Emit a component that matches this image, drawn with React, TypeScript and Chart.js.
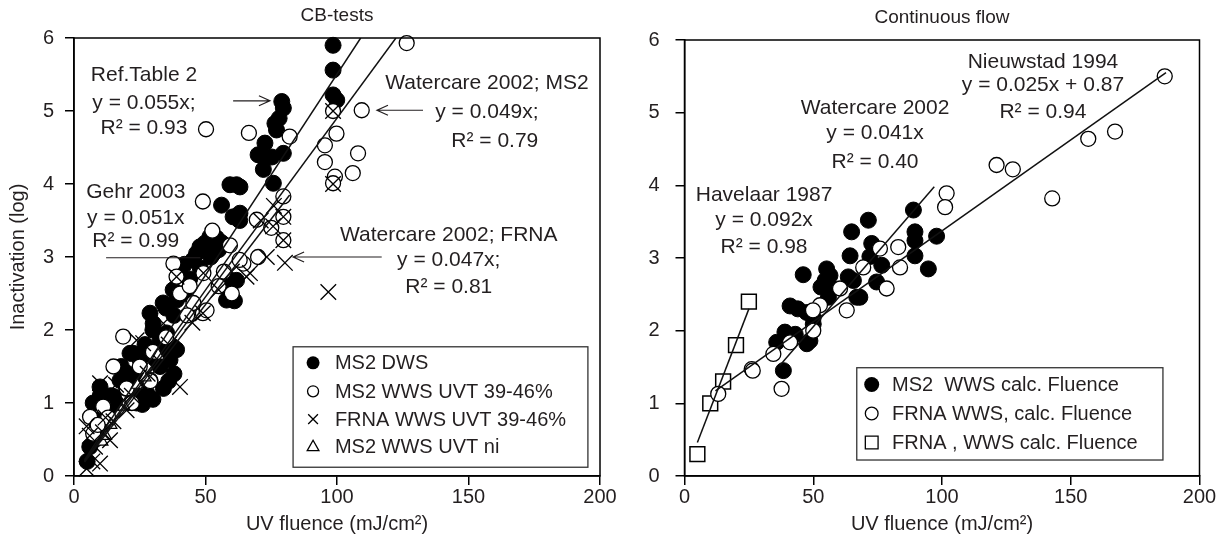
import React, { useEffect, useRef } from "react";
import { Chart, registerables } from "chart.js";

Chart.register(...registerables);

const FONT = "'Liberation Sans', Arial, Helvetica, sans-serif";
const INK = "#231f20";

type P = [number, number];

// ---------------- shared axis ticks ----------------
const xTickValues = [0, 50, 100, 150, 200];
const yTickValues = [0, 1, 2, 3, 4, 5, 6];

// ---------------- Left panel: CB-tests ----------------
const cbMs2Dws: P[] = [
  [5, 0.2], [6, 0.4], [8, 0.5], [7.3, 1.0], [8.6, 0.72], [10, 0.65], [9.9, 1.22], [11, 0.81], [10, 1.1],
  [12, 0.9], [13, 0.9], [14, 1.1], [15, 1.09], [16, 1.0], [17.5, 1.31], [18, 1.5], [20, 1.2], [20, 1.41],
  [21.3, 1.68], [22.5, 1.68], [23.8, 1.0], [24, 1.3], [25, 1.6], [25.1, 1.09], [26, 0.98], [27, 1.8],
  [27.6, 1.14], [28.9, 1.31], [28.9, 2.23], [30, 1.05], [30, 2.0], [30.1, 2.09], [31, 1.6], [32.7, 1.5],
  [32.7, 1.86], [33.9, 2.37], [34, 1.2], [35, 2.3], [35.2, 1.73], [35.2, 1.96], [36, 1.3], [36.5, 1.59],
  [37.7, 1.77], [37.7, 2.55], [38, 1.4], [38, 2.2], [39, 2.41], [39, 1.73], [40.3, 2.78], [42, 2.5],
  [42, 2.9], [44, 2.7], [45.3, 2.96], [46.6, 3.05], [47.9, 3.14], [48, 2.85], [49.8, 3.19], [51.7, 3.28],
  [52, 3.0], [53, 3.05], [54.2, 3.26], [55, 3.1], [56, 3.2], [58, 2.41], [58.6, 2.68], [59.3, 2.46],
  [61, 2.4], [61.8, 2.68], [56.1, 3.71], [59.3, 3.99], [61.8, 3.99], [63.1, 3.96], [63.1, 3.6], [60.5, 3.55],
  [63, 3.5], [70, 4.4], [71.9, 4.37], [72, 4.2], [72.6, 4.56], [75.2, 4.37], [75.8, 4.01], [79.6, 4.42],
  [76.4, 4.83], [77, 4.74], [78, 4.9], [79, 5.13], [79.6, 5.04], [98.5, 5.9], [98.5, 5.56], [98.5, 5.22],
  [99.9, 5.15],
];
const cbMs2Wws: P[] = [
  [126.5, 5.93], [109.4, 5.01], [108, 4.42], [106, 4.15], [99.8, 4.69], [95.4, 4.53], [95.4, 4.3],
  [99.2, 4.1], [98.5, 4.01], [98.5, 5.0], [82, 4.65], [66.5, 4.7], [50.2, 4.75], [49, 3.76], [52.6, 3.36],
  [79.6, 3.83], [79.6, 3.55], [79.6, 3.23], [69.5, 3.51], [64.4, 2.91], [59.3, 3.16], [37.8, 2.91],
  [39, 2.73], [49.2, 2.78], [40.3, 2.5], [49, 2.23], [45.4, 2.37], [50.4, 2.27], [63, 2.96], [18.7, 1.91],
  [15, 1.5], [7.3, 0.58], [6.1, 0.81], [11.1, 0.95], [30, 1.7], [25, 1.5], [20, 1.2], [35, 1.9], [55, 2.6],
  [43, 2.2], [13, 0.8], [9, 0.7], [60, 2.5], [70, 3.0], [75, 3.4], [29, 1.3], [22, 1.0], [44, 2.6], [57, 2.8],
];
const cbFrnaWws: P[] = [
  [96.7, 2.52], [80.2, 2.92], [73.3, 3.0], [75.7, 3.42], [65.6, 2.73], [66.9, 2.78], [40.3, 1.22],
  [9.9, 1.27], [4.8, 0.68], [9.9, 0.17], [4.8, 0.1], [7, 0.2], [13.7, 0.49], [23.8, 1.86], [26.3, 1.82],
  [20, 0.9], [34, 2.09], [98.5, 5.0], [98.5, 4.0], [79.6, 3.55], [79.6, 3.23], [39, 2.73], [49.2, 2.78],
  [49, 2.23], [6, 0.55], [8, 0.4], [11, 0.6], [15, 0.75], [18, 1.0], [22, 1.1], [28, 1.4], [30, 1.5],
  [33, 1.55], [36, 1.8], [45, 2.1], [55, 2.55], [60, 2.8], [71, 3.5], [76, 3.7], [16, 1.25], [12, 0.8],
];
const cbMs2Ni: P[] = [[10.6, 0.47], [12, 0.55], [14, 0.7], [19, 0.95], [24, 1.25], [27, 1.35], [32, 1.65]];

const cbLineRefTable2: P[] = [[4, 0.22], [109, 6.0]];
const cbLineWatercareMs2: P[] = [[4, 0.2], [122.4, 6.0]];
const cbLineGehr: P[] = [[4, 0.2], [62, 3.16]];
const cbLineWatercareFrna: P[] = [[4, 0.19], [82, 3.85]];

// ---------------- Right panel: Continuous flow ----------------
const cfMs2Wws: P[] = [
  [38.4, 1.45], [35.8, 1.84], [39, 1.98], [41, 2.34], [43, 1.95], [44, 2.3], [47.5, 1.82], [47.5, 2.25],
  [48.7, 1.86], [50, 2.09], [50, 2.18], [46.1, 2.77], [53, 2.6], [54.6, 2.69], [55.2, 2.85], [56.5, 2.76],
  [57.2, 2.58], [55.9, 2.46], [63.6, 2.74], [65.6, 2.69], [66.9, 2.46], [64.3, 3.03], [64.9, 3.36],
  [71.4, 3.52], [72.7, 3.2], [72, 3.02], [74.6, 2.67], [76.6, 2.9], [68.1, 2.46], [88.9, 3.66], [89.5, 3.36],
  [89.5, 3.24], [89.5, 3.03], [97.9, 3.3], [94.7, 2.85],
];
const cfFrnaWws: P[] = [
  [13.1, 1.13], [26.1, 1.47], [26.5, 1.45], [34.5, 1.68], [37.7, 1.2], [41, 1.84], [50, 2.0], [52.6, 2.35],
  [49.9, 2.28], [60.4, 2.58], [63, 2.28], [69.4, 2.87], [75.9, 3.13], [78.5, 2.58], [83, 3.15], [83.7, 2.87],
  [101.8, 3.89], [101.2, 3.7], [121.2, 4.28], [127.5, 4.22], [142.8, 3.82], [156.8, 4.64], [167.2, 4.74],
  [186.5, 5.5],
];
const cfFrnaSquares: P[] = [[5, 0.3], [10, 1.0], [15, 1.3], [20, 1.8], [25, 2.4]];

const cfLineHavelaar: P[] = [[5, 0.46], [25, 2.3]];
const cfLineWatercare: P[] = [[37, 1.52], [97, 3.98]];
const cfLineNieuwstad: P[] = [[12, 1.17], [187, 5.55]];

// ---------------- helpers ----------------
const pts = (a: P[]) => a.map(([x, y]) => ({ x, y }));

type Txt = { text: string; x: number; y: number };
type Arrow = { x1: number; y1: number; x2: number; y2: number; head: boolean };
type LegendItem = { label: string; marker: string; y: number };
type LegendSpec = { x0: number; y0: number; x1: number; y1: number; markerX: number; textX: number; items: LegendItem[]; r: number };

function drawMarker(ctx: CanvasRenderingContext2D, kind: string, x: number, y: number, r: number) {
  ctx.save();
  ctx.strokeStyle = "#000";
  ctx.fillStyle = "#000";
  ctx.lineWidth = 1.3;
  ctx.beginPath();
  if (kind === "filled") {
    ctx.arc(x, y, r, 0, Math.PI * 2);
    ctx.fill();
  } else if (kind === "open") {
    ctx.arc(x, y, r * 0.85, 0, Math.PI * 2);
    ctx.fillStyle = "#fff";
    ctx.fill();
    ctx.stroke();
  } else if (kind === "cross") {
    const d = r * 0.75;
    ctx.moveTo(x - d, y - d); ctx.lineTo(x + d, y + d);
    ctx.moveTo(x - d, y + d); ctx.lineTo(x + d, y - d);
    ctx.stroke();
  } else if (kind === "triangle") {
    ctx.moveTo(x, y - r);
    ctx.lineTo(x + r * 0.9, y + r * 0.6);
    ctx.lineTo(x - r * 0.9, y + r * 0.6);
    ctx.closePath();
    ctx.stroke();
  } else if (kind === "square") {
    const s = r * 0.85;
    ctx.rect(x - s, y - s, 2 * s, 2 * s);
    ctx.fillStyle = "#fff";
    ctx.fill();
    ctx.stroke();
  }
  ctx.restore();
}

function decorPlugin(id: string, title: string, texts: Txt[], arrows: Arrow[], legend: LegendSpec) {
  return {
    id,
    afterDatasetsDraw(chart: any) {
      const { ctx, chartArea: a, scales } = chart;
      const X = (v: number) => scales.x.getPixelForValue(v);
      const Y = (v: number) => scales.y.getPixelForValue(v);
      ctx.save();
      // frame
      ctx.strokeStyle = "#000";
      ctx.lineWidth = 1.5;
      ctx.strokeRect(a.left, a.top, a.right - a.left, a.bottom - a.top);
      // title
      ctx.fillStyle = INK;
      ctx.font = `19px ${FONT}`;
      ctx.textAlign = "center";
      ctx.textBaseline = "middle";
      ctx.fillText(title, (a.left + a.right) / 2, a.top - 22);
      // annotation text
      ctx.font = `21px ${FONT}`;
      for (const t of texts) ctx.fillText(t.text, X(t.x), Y(t.y));
      // arrows / pointer lines
      ctx.strokeStyle = INK;
      ctx.lineWidth = 1.2;
      for (const ar of arrows) {
        const x1 = X(ar.x1), y1 = Y(ar.y1), x2 = X(ar.x2), y2 = Y(ar.y2);
        ctx.beginPath();
        ctx.moveTo(x1, y1);
        ctx.lineTo(x2, y2);
        if (ar.head) {
          const L = Math.hypot(x2 - x1, y2 - y1);
          const dx = (x2 - x1) / L, dy = (y2 - y1) / L;
          const bx = x2 - dx * 11, by = y2 - dy * 11;
          ctx.moveTo(bx - dy * 5, by + dx * 5);
          ctx.lineTo(x2, y2);
          ctx.lineTo(bx + dy * 5, by - dx * 5);
        }
        ctx.stroke();
      }
      // legend
      const lx0 = X(legend.x0), ly0 = Y(legend.y0), lx1 = X(legend.x1), ly1 = Y(legend.y1);
      ctx.fillStyle = "#fff";
      ctx.fillRect(lx0, ly0, lx1 - lx0, ly1 - ly0);
      ctx.strokeStyle = "#333";
      ctx.lineWidth = 1.3;
      ctx.strokeRect(lx0, ly0, lx1 - lx0, ly1 - ly0);
      ctx.font = `20px ${FONT}`;
      ctx.textAlign = "left";
      ctx.textBaseline = "middle";
      for (const it of legend.items) {
        const yy = Y(it.y);
        drawMarker(ctx, it.marker, X(legend.markerX), yy, legend.r);
        ctx.fillStyle = INK;
        ctx.fillText(it.label, X(legend.textX), yy + 1);
      }
      ctx.restore();
    },
  };
}

function axes(yTitle: string | null, yWidth: number, yPad: number) {
  const tickFont = { family: FONT, size: 20 };
  return {
    x: {
      type: "linear",
      min: 0,
      max: 200,
      afterBuildTicks: (s: any) => { s.ticks = xTickValues.map((v) => ({ value: v })); },
      afterFit: (s: any) => { s.height = 69; },
      ticks: { color: INK, font: tickFont, padding: 0, maxRotation: 0 },
      grid: { display: true, drawOnChartArea: false, drawTicks: true, tickLength: 9, color: "#000", lineWidth: 1.5 },
      border: { display: true, color: "#000", width: 1.5 },
      title: { display: true, text: "UV fluence (mJ/cm²)", color: INK, font: { family: FONT, size: 20 }, padding: { top: 0, bottom: 9 } },
    },
    y: {
      type: "linear",
      min: 0,
      max: 6,
      afterBuildTicks: (s: any) => { s.ticks = yTickValues.map((v) => ({ value: v })); },
      afterFit: (s: any) => { s.width = yWidth; },
      ticks: { color: INK, font: tickFont, padding: yPad },
      grid: { display: true, drawOnChartArea: false, drawTicks: true, tickLength: 9, color: "#000", lineWidth: 1.5 },
      border: { display: true, color: "#000", width: 1.5 },
      title: { display: !!yTitle, text: yTitle || "", color: INK, font: { family: FONT, size: 20 }, padding: { top: 6, bottom: 0 } },
    },
  };
}

const filledDs = (label: string, data: P[]) => ({
  label, data: pts(data), pointStyle: "circle", pointRadius: 8, backgroundColor: "#000", borderColor: "#000",
  pointBorderWidth: 1, showLine: false, order: 4, clip: false,
});
const openDs = (label: string, data: P[]) => ({
  label, data: pts(data), pointStyle: "circle", pointRadius: 7.5, backgroundColor: "#fff", borderColor: "#000",
  pointBorderWidth: 1.3, showLine: false, order: 3, clip: false,
});
const crossDs = (label: string, data: P[]) => ({
  label, data: pts(data), pointStyle: "crossRot", pointRadius: 11, backgroundColor: "#000", borderColor: "#000",
  pointBorderWidth: 1.3, showLine: false, order: 2, clip: false,
});
const triDs = (label: string, data: P[]) => ({
  label, data: pts(data), pointStyle: "triangle", pointRadius: 7, backgroundColor: "#fff", borderColor: "#000",
  pointBorderWidth: 1.2, showLine: false, order: 2.5, clip: false,
});
const squareDs = (label: string, data: P[]) => ({
  label, data: pts(data), pointStyle: "rect", pointRadius: 10.5, backgroundColor: "#fff", borderColor: "#000",
  pointBorderWidth: 1.5, showLine: false, order: 3, clip: false,
});
const lineDs = (label: string, data: P[]) => ({
  label, data: pts(data), showLine: true, pointRadius: 0, borderColor: "#111", borderWidth: 1.5, order: 0, fill: false,
});

function makeConfig(datasets: any[], scales: any, padding: any, plugin: any) {
  return {
    type: "scatter",
    data: { datasets },
    options: {
      animation: false,
      responsive: false,
      events: [],
      layout: { padding },
      plugins: { legend: { display: false }, tooltip: { enabled: false }, title: { display: false } },
      scales,
    },
    plugins: [plugin],
  } as any;
}

const leftTexts: Txt[] = [
  { text: "Ref.Table 2", x: 26.6, y: 5.49 },
  { text: "y = 0.055x;", x: 26.6, y: 5.11 },
  { text: "R² = 0.93", x: 26.6, y: 4.76 },
  { text: "Gehr 2003", x: 23.5, y: 3.89 },
  { text: "y = 0.051x", x: 23.5, y: 3.53 },
  { text: "R² = 0.99", x: 23.5, y: 3.21 },
  { text: "Watercare 2002; MS2", x: 157, y: 5.38 },
  { text: "y = 0.049x;", x: 157, y: 4.99 },
  { text: "R² = 0.79", x: 160, y: 4.59 },
  { text: "Watercare 2002; FRNA", x: 142.5, y: 3.3 },
  { text: "y = 0.047x;", x: 142.5, y: 2.96 },
  { text: "R² = 0.81", x: 142.5, y: 2.58 },
];
const leftArrows: Arrow[] = [
  { x1: 60.5, y1: 5.14, x2: 74.5, y2: 5.14, head: true },
  { x1: 132.7, y1: 5.01, x2: 115.2, y2: 5.01, head: true },
  { x1: 117, y1: 3.0, x2: 83.3, y2: 3.0, head: true },
  { x1: 12.2, y1: 2.99, x2: 48, y2: 2.99, head: false },
];
const leftLegend: LegendSpec = {
  x0: 83.3, y0: 1.77, x1: 195.4, y1: 0.12, markerX: 90.9, textX: 99.2, r: 6.5,
  items: [
    { label: "MS2 DWS", marker: "filled", y: 1.55 },
    { label: "MS2 WWS UVT 39-46%", marker: "open", y: 1.16 },
    { label: "FRNA WWS UVT 39-46%", marker: "cross", y: 0.78 },
    { label: "MS2 WWS UVT ni", marker: "triangle", y: 0.4 },
  ],
};

const rightTexts: Txt[] = [
  { text: "Nieuwstad 1994", x: 139.2, y: 5.7 },
  { text: "y = 0.025x + 0.87", x: 139.2, y: 5.38 },
  { text: "R² = 0.94", x: 139.2, y: 5.01 },
  { text: "Watercare 2002", x: 74, y: 5.06 },
  { text: "y = 0.041x", x: 74, y: 4.72 },
  { text: "R² = 0.40", x: 74, y: 4.32 },
  { text: "Havelaar 1987", x: 30.9, y: 3.86 },
  { text: "y = 0.092x", x: 30.9, y: 3.52 },
  { text: "R² = 0.98", x: 30.9, y: 3.15 },
];
const rightLegend: LegendSpec = {
  x0: 66.9, y0: 1.49, x1: 185.8, y1: 0.22, markerX: 72.7, textX: 80.6, r: 7.5,
  items: [
    { label: "MS2  WWS calc. Fluence", marker: "filled", y: 1.26 },
    { label: "FRNA WWS, calc. Fluence", marker: "open", y: 0.86 },
    { label: "FRNA , WWS calc. Fluence", marker: "square", y: 0.46 },
  ],
};

export default function App() {
  const leftRef = useRef<HTMLCanvasElement>(null);
  const rightRef = useRef<HTMLCanvasElement>(null);

  useEffect(() => {
    const left = new Chart(
      leftRef.current!,
      makeConfig(
        [
          lineDs("Ref.Table 2", cbLineRefTable2),
          lineDs("Watercare 2002; MS2", cbLineWatercareMs2),
          lineDs("Gehr 2003", cbLineGehr),
          lineDs("Watercare 2002; FRNA", cbLineWatercareFrna),
          filledDs("MS2 DWS", cbMs2Dws),
          openDs("MS2 WWS UVT 39-46%", cbMs2Wws),
          crossDs("FRNA WWS UVT 39-46%", cbFrnaWws),
          triDs("MS2 WWS UVT ni", cbMs2Ni),
        ],
        axes("Inactivation (log)", 74, 11),
        { left: 0, right: 20, top: 38, bottom: 0 },
        decorPlugin("decorLeft", "CB-tests", leftTexts, leftArrows, leftLegend)
      )
    );
    const right = new Chart(
      rightRef.current!,
      makeConfig(
        [
          lineDs("Havelaar 1987", cfLineHavelaar),
          lineDs("Watercare 2002", cfLineWatercare),
          lineDs("Nieuwstad 1994", cfLineNieuwstad),
          filledDs("MS2  WWS calc. Fluence", cfMs2Wws),
          openDs("FRNA WWS, calc. Fluence", cfFrnaWws),
          squareDs("FRNA , WWS calc. Fluence", cfFrnaSquares),
        ],
        axes(null, 64.5, 16),
        { left: 0, right: 18.5, top: 40, bottom: 0 },
        decorPlugin("decorRight", "Continuous flow", rightTexts, [], rightLegend)
      )
    );
    return () => {
      left.destroy();
      right.destroy();
    };
  }, []);

  return (
    <div style={{ position: "fixed", left: 0, top: 0, width: 1218, height: 545, background: "#fff" }}>
      <canvas ref={leftRef} width={620} height={545} style={{ position: "absolute", left: 0, top: 0, width: 620, height: 545 }} />
      <canvas ref={rightRef} width={598} height={545} style={{ position: "absolute", left: 620, top: 0, width: 598, height: 545 }} />
    </div>
  );
}
